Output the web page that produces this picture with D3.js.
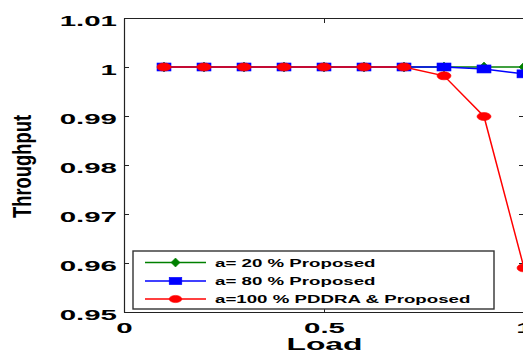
<!DOCTYPE html>
<html>
<head>
<meta charset="utf-8">
<script src="https://cdn.jsdelivr.net/npm/d3@7"></script>
<style>
  html, body { margin: 0; padding: 0; background: #fff; }
  svg { display: block; }
  text { font-family: "Liberation Sans", Arial, sans-serif; font-weight: bold; fill: #000; }
</style>
</head>
<body>
<svg id="chart" width="523" height="354"></svg>
<script>
// Throughput versus offered load
const load = [0.1, 0.2, 0.3, 0.4, 0.5, 0.6, 0.7, 0.8, 0.9, 1.0];
const a20Proposed = [1, 1, 1, 1, 1, 1, 1, 1, 1, 1];
const a80Proposed = [1, 1, 1, 1, 1, 1, 1, 1, 0.9996, 0.9986];
const a100Both = [1, 1, 1, 1, 1, 1, 1, 0.9982, 0.9899, 0.959];

const seriesNames = ["a= 20 % Proposed", "a= 80 % Proposed", "a=100 % PDDRA & Proposed"];
const seriesColors = ["#008000", "#0000ff", "#ff0000"];
const seriesMarkers = ["diamond", "square", "ellipse"];

const xTicks = [0, 0.5, 1];
const xTickLabels = ["0", "0.5", "1"];
const yTicks = [0.95, 0.96, 0.97, 0.98, 0.99, 1.0, 1.01];
const yTickLabels = ["0.95", "0.96", "0.97", "0.98", "0.99", "1", "1.01"];

const xLabel = "Load";
const yLabel = "Throughput";

const svg = d3.select("#chart");
const W = 523, H = 354;
const plot = { left: 124, right: 524, top: 18, bottom: 312 };

const x = d3.scaleLinear().domain([0, 1]).range([plot.left, plot.right]);
const y = d3.scaleLinear().domain([0.95, 1.01]).range([plot.bottom, plot.top]);

svg.append("rect").attr("width", W).attr("height", H).attr("fill", "#fff");

const axisColor = "#222";
const labelStretch = 1.9;

// Box axes with inward ticks
const gLeft = svg.append("g").attr("transform", `translate(${plot.left},0)`)
  .call(d3.axisLeft(y).tickValues(yTicks).tickFormat((d, i) => yTickLabels[i])
    .tickSizeInner(-5).tickSizeOuter(0).tickPadding(0));
gLeft.selectAll("text")
  .attr("x", 0).attr("y", 0).attr("dy", null)
  .attr("text-anchor", "end")
  .style("font-size", "15.5px")
  .attr("transform", `translate(-7,7) scale(${labelStretch},1)`);

const gRight = svg.append("g").attr("transform", `translate(${plot.right},0)`)
  .call(d3.axisRight(y).tickValues(yTicks).tickFormat("")
    .tickSizeInner(-5).tickSizeOuter(0));

const gBottom = svg.append("g").attr("transform", `translate(0,${plot.bottom})`)
  .call(d3.axisBottom(x).tickValues(xTicks).tickFormat((d, i) => xTickLabels[i])
    .tickSizeInner(-5).tickSizeOuter(0).tickPadding(0));
gBottom.selectAll("text")
  .attr("x", 0).attr("y", 0).attr("dy", null)
  .attr("text-anchor", "middle")
  .style("font-size", "15.5px")
  .attr("transform", `translate(0,21) scale(${labelStretch},1)`);

const gTop = svg.append("g").attr("transform", `translate(0,${plot.top})`)
  .call(d3.axisTop(x).tickValues(xTicks).tickFormat("")
    .tickSizeInner(-5).tickSizeOuter(0));

[gLeft, gRight, gBottom, gTop].forEach(g => {
  g.select(".domain").attr("stroke", axisColor).attr("stroke-width", 1.2);
  g.selectAll(".tick line").attr("stroke", axisColor).attr("stroke-width", 1);
});

// Axis titles
svg.append("text")
  .attr("text-anchor", "middle")
  .style("font-size", "17px")
  .attr("transform", `translate(324.5,350) scale(1.87,1)`)
  .text(xLabel);

svg.append("text")
  .attr("text-anchor", "middle")
  .style("font-size", "25px")
  .attr("textLength", 103)
  .attr("lengthAdjust", "spacingAndGlyphs")
  .attr("transform", `translate(31,166.5) rotate(-90)`)
  .text(yLabel);

// Marker drawing
function drawMarker(g, kind, cx, cy, color, scale) {
  const s = scale || 1;
  if (kind === "diamond") {
    const hw = 5 * s, hh = 5 * s;
    g.append("path")
      .attr("d", `M${cx},${cy - hh}L${cx + hw},${cy}L${cx},${cy + hh}L${cx - hw},${cy}Z`)
      .attr("fill", color).attr("stroke", color).attr("stroke-width", 0.6);
  } else if (kind === "square") {
    const hw = 7 * s, hh = 4 * s;
    g.append("rect")
      .attr("x", cx - hw).attr("y", cy - hh).attr("width", 2 * hw).attr("height", 2 * hh)
      .attr("fill", color).attr("stroke", color).attr("stroke-width", 0.6);
  } else {
    g.append("ellipse")
      .attr("cx", cx).attr("cy", cy).attr("rx", 7 * s).attr("ry", 4 * s)
      .attr("fill", color).attr("stroke", color).attr("stroke-width", 0.6);
  }
}

const allSeries = [a20Proposed, a80Proposed, a100Both];
const line = d3.line().x((d, i) => x(load[i])).y(d => y(d));

const plotG = svg.append("g");
allSeries.forEach((vals, k) => {
  const g = plotG.append("g");
  g.append("path").datum(vals)
    .attr("d", line)
    .attr("fill", "none")
    .attr("stroke", seriesColors[k])
    .attr("stroke-width", 1.5);
  vals.forEach((v, i) => drawMarker(g, seriesMarkers[k], x(load[i]), y(v), seriesColors[k]));
});

// Legend
const legend = svg.append("g");
legend.append("rect")
  .attr("x", 133).attr("y", 251).attr("width", 361).attr("height", 58)
  .attr("fill", "#fff").attr("stroke", "#333").attr("stroke-width", 1.4);
const rowY = [262.5, 281, 299];
seriesNames.forEach((name, k) => {
  const cy = rowY[k];
  legend.append("line")
    .attr("x1", 145).attr("x2", 206).attr("y1", cy).attr("y2", cy)
    .attr("stroke", seriesColors[k]).attr("stroke-width", 1.5);
  drawMarker(legend, seriesMarkers[k], 175.5, cy, seriesColors[k], 0.9);
  legend.append("text")
    .attr("text-anchor", "start")
    .style("font-size", "11.2px")
    .attr("transform", `translate(215,${cy + 4}) scale(1.67,1)`)
    .text(name);
});
</script>
</body>
</html>
